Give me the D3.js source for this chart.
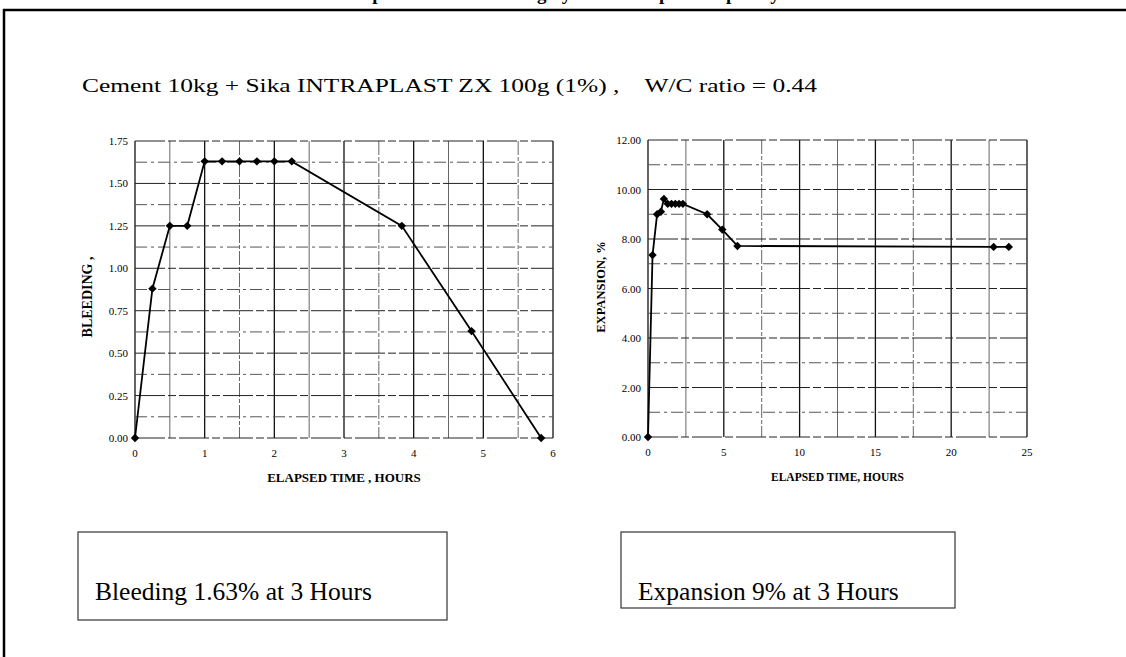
<!DOCTYPE html>
<html>
<head>
<meta charset="utf-8">
<script src="https://cdn.jsdelivr.net/npm/d3@7"></script>
<style>
  body { margin: 0; background: #fff; }
  svg { display: block; }
  text { font-family: "Liberation Serif", "DejaVu Serif", serif; fill: #000; white-space: pre; }
</style>
</head>
<body>
<div id="chart"></div>
<script>
// bleeding test, hours vs %
const bleedTime = [0, 0.25, 0.5, 0.75, 1, 1.25, 1.5, 1.75, 2, 2.25, 3.83, 4.83, 5.83];
const bleedValue = [0, 0.88, 1.25, 1.25, 1.63, 1.63, 1.63, 1.63, 1.63, 1.63, 1.25, 0.63, 0];
const bleedTicksY = [0, 0.25, 0.5, 0.75, 1, 1.25, 1.5, 1.75];
const bleedTicksX = [0, 1, 2, 3, 4, 5, 6];

// expansion test, hours vs %
const expTime = [0, 0.3, 0.6, 0.85, 1.05, 1.3, 1.55, 1.8, 2.05, 2.3, 3.9, 4.9, 5.9, 22.8, 23.8];
const expValue = [0, 7.35, 9.0, 9.1, 9.62, 9.42, 9.42, 9.42, 9.42, 9.42, 9.0, 8.38, 7.72, 7.68, 7.68];
const expTicksY = [0, 2, 4, 6, 8, 10, 12];
const expTicksX = [0, 5, 10, 15, 20, 25];

const svg = d3.select("#chart")
  .append("svg")
  .attr("width", 1126)
  .attr("height", 657);

// outer frame (runs off the page at right and bottom)
svg.append("rect")
  .attr("x", 4).attr("y", 10)
  .attr("width", 1140).attr("height", 700)
  .attr("fill", "none")
  .attr("stroke", "#000")
  .attr("stroke-width", 2.5);

// heading cut off at the top edge, as in the source scan
svg.append("text")
  .attr("x", 572).attr("y", 0)
  .attr("text-anchor", "middle")
  .attr("font-weight", "bold")
  .attr("font-size", 19)
  .text("Grout Expansion and Bleeding by Sika Intraplast Capillary Method");

svg.append("text")
  .attr("x", 82).attr("y", 92)
  .attr("font-size", 19)
  .attr("textLength", 735)
  .attr("lengthAdjust", "spacingAndGlyphs")
  .text("Cement 10kg + Sika INTRAPLAST ZX 100g (1%) ,    W/C ratio = 0.44");

function drawChart(opt) {
  const x = d3.scaleLinear().domain(opt.xDomain).range([opt.left, opt.right]);
  const y = d3.scaleLinear().domain(opt.yDomain).range([opt.bottom, opt.top]);
  const g = svg.append("g");

  // vertical grid
  g.selectAll(".vg")
    .data(d3.range(opt.xDomain[0], opt.xDomain[1] + 1e-9, opt.xGrid))
    .join("line")
    .attr("x1", d => x(d)).attr("x2", d => x(d))
    .attr("y1", opt.top).attr("y2", opt.bottom)
    .attr("stroke", (d, i) => i % 2 === 0 ? "#111" : "#666")
    .attr("stroke-width", (d, i) => i % 2 === 0 ? 1.3 : 1)
    .attr("stroke-dasharray", (d, i) => i % 4 === 3 ? "14,2,4,2" : null);

  // horizontal grid
  g.selectAll(".hg")
    .data(d3.range(opt.yDomain[0], opt.yDomain[1] + 1e-9, opt.yGrid))
    .join("line")
    .attr("x1", opt.left).attr("x2", opt.right)
    .attr("y1", d => y(d)).attr("y2", d => y(d))
    .attr("stroke", (d, i) => i % 2 === 0 ? "#222" : "#555")
    .attr("stroke-width", 1)
    .attr("stroke-dasharray", (d, i) => i % 2 === 0 ? "30,3,8,3" : "12,4,3,4");

  // tick labels
  g.selectAll(".yt")
    .data(opt.yTicks)
    .join("text")
    .attr("x", opt.left - 7)
    .attr("y", d => y(d) + 4)
    .attr("text-anchor", "end")
    .attr("font-size", 11)
    .text(d3.format(".2f"));

  g.selectAll(".xt")
    .data(opt.xTicks)
    .join("text")
    .attr("x", d => x(d))
    .attr("y", opt.bottom + 19)
    .attr("text-anchor", "middle")
    .attr("font-size", 11)
    .text(d => d);

  // axis titles
  g.append("text")
    .attr("x", (opt.left + opt.right) / 2 + opt.xTitleDx)
    .attr("y", opt.bottom + 44)
    .attr("text-anchor", "middle")
    .attr("font-size", opt.xTitleSize)
    .attr("font-weight", "bold")
    .text(opt.xTitle);

  g.append("text")
    .attr("transform", `translate(${opt.yTitleX},${opt.yTitleY}) rotate(-90)`)
    .attr("text-anchor", "middle")
    .attr("font-size", opt.yTitleSize)
    .attr("font-weight", "bold")
    .text(opt.yTitle);

  const pts = opt.xs.map((d, i) => [d, opt.ys[i]]);

  g.append("path")
    .datum(pts)
    .attr("fill", "none")
    .attr("stroke", "#000")
    .attr("stroke-width", 1.8)
    .attr("d", d3.line().x(d => x(d[0])).y(d => y(d[1])));

  g.selectAll(".pt")
    .data(pts)
    .join("path")
    .attr("transform", d => `translate(${x(d[0])},${y(d[1])})`)
    .attr("d", d3.symbol(d3.symbolDiamond2, 45))
    .attr("fill", "#000");
}

drawChart({
  xs: bleedTime, ys: bleedValue,
  xDomain: [0, 6], yDomain: [0, 1.75],
  xGrid: 0.5, yGrid: 0.125,
  xTicks: bleedTicksX, yTicks: bleedTicksY,
  left: 135, right: 553, top: 141, bottom: 438,
  xTitle: "ELAPSED TIME , HOURS", xTitleDx: 0, xTitleSize: 13,
  yTitle: "BLEEDING ,", yTitleX: 92, yTitleY: 297, yTitleSize: 14
});

drawChart({
  xs: expTime, ys: expValue,
  xDomain: [0, 25], yDomain: [0, 12],
  xGrid: 2.5, yGrid: 1,
  xTicks: expTicksX, yTicks: expTicksY,
  left: 648, right: 1027, top: 140, bottom: 437,
  xTitle: "ELAPSED TIME, HOURS", xTitleDx: 0, xTitleSize: 11.5,
  yTitle: "EXPANSION, %", yTitleX: 605, yTitleY: 287, yTitleSize: 12.5
});

// result boxes
const notes = [
  { x: 78, y: 532, w: 369, h: 88, text: "Bleeding 1.63% at 3 Hours" },
  { x: 621, y: 532, w: 334, h: 76, text: "Expansion 9% at 3 Hours" }
];

svg.selectAll(".note")
  .data(notes)
  .join("rect")
  .attr("x", d => d.x).attr("y", d => d.y)
  .attr("width", d => d.w).attr("height", d => d.h)
  .attr("fill", "#fff")
  .attr("stroke", "#333")
  .attr("stroke-width", 1.2);

svg.selectAll(".notetext")
  .data(notes)
  .join("text")
  .attr("x", d => d.x + 17)
  .attr("y", 600)
  .attr("font-size", 25.5)
  .text(d => d.text);
</script>
</body>
</html>
